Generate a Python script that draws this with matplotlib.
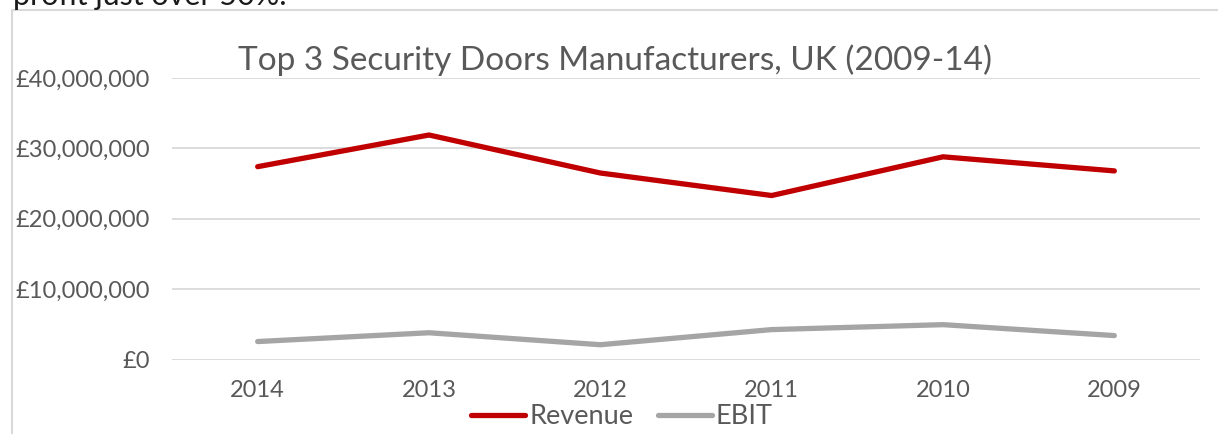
import matplotlib.pyplot as plt
from matplotlib.lines import Line2D

years = ['2014', '2013', '2012', '2011', '2010', '2009']
revenue = [27.4e6, 31.9e6, 26.5e6, 23.3e6, 28.8e6, 26.8e6]
ebit = [2.55e6, 3.8e6, 2.1e6, 4.25e6, 4.95e6, 3.4e6]
yticks = [0, 10e6, 20e6, 30e6, 40e6]
ytick_labels = ['£0', '£10,000,000', '£20,000,000', '£30,000,000', '£40,000,000']

plt.rcParams['font.family'] = ['Lato', 'DejaVu Sans']
text_grey = '#595959'
grid_grey = '#D9D9D9'

W, H = 1218, 434
fig = plt.figure(figsize=(W / 100, H / 100), dpi=100)

# chart area border (left and top edges visible)
fig.add_artist(Line2D([12 / W, 12 / W, 1.0], [0.0, 1 - 10 / H, 1 - 10 / H],
                      transform=fig.transFigure, color=grid_grey, lw=1.5))

# cut-off document text above the chart
fig.text(13 / W, 1 - 5 / H, 'profit just over 50%.', fontsize=22,
         color='#1a1a1a', ha='left', va='baseline')

ax = fig.add_axes([172 / W, (H - 359.5) / H, (1200 - 172) / W, (359.5 - 78) / H])
x = range(len(years))
ax.plot(x, revenue, color='#C00000', lw=3.8, solid_capstyle='round',
        solid_joinstyle='round', label='Revenue')
ax.plot(x, ebit, color='#A5A5A5', lw=3.8, solid_capstyle='round',
        solid_joinstyle='round', label='EBIT')

ax.set_xlim(-0.5, len(years) - 0.5)
ax.set_ylim(0, 40e6)
ax.set_xticks(list(x))
ax.set_xticklabels(years)
ax.set_yticks(yticks)
ax.set_yticklabels(ytick_labels)
ax.tick_params(length=0, labelsize=17, colors=text_grey)
ax.tick_params(axis='y', pad=16)
ax.tick_params(axis='x', pad=15)
ax.grid(axis='y', color=grid_grey, lw=1.3)
ax.set_axisbelow(True)
for s in ax.spines.values():
    s.set_visible(False)

fig.text(615 / W, 1 - 60 / H, 'Top 3 Security Doors Manufacturers, UK (2009-14)',
         fontsize=24, color=text_grey, ha='center', va='center')

leg = fig.legend(loc='center', bbox_to_anchor=(622 / W, 1 - 417 / H), ncol=2,
                 frameon=False, fontsize=19.5, handlelength=2.0, handletextpad=0.15,
                 columnspacing=0.9, borderpad=0)
for t in leg.get_texts():
    t.set_color(text_grey)

fig.savefig('out.png', dpi=100)
